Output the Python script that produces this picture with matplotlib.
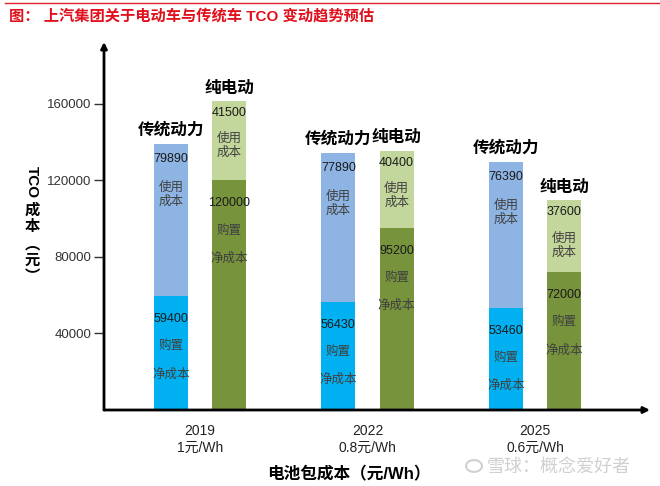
import numpy as np
import matplotlib
matplotlib.use('Agg')
import matplotlib.pyplot as plt
from matplotlib.lines import Line2D

plt.rcParams['font.family'] = ['Liberation Sans', 'Noto Sans CJK SC', 'DejaVu Sans']

years = ['2019', '2022', '2025']
battery = ['1元/Wh', '0.8元/Wh', '0.6元/Wh']
ice_buy = [59400, 56430, 53460]
ice_use = [79890, 77890, 76390]
ev_buy = [120000, 95200, 72000]
ev_use = [41500, 40400, 37600]
yticks = [40000, 80000, 120000, 160000]

W, H = 660, 486
fig = plt.figure(figsize=(6.6, 4.86), dpi=100)
ax = fig.add_axes([104 / W, (H - 410) / H, 546 / W, 368 / H])

x = np.arange(len(years))
bw = 0.203
off = 0.174
c_ice_buy, c_ice_use = '#00B0F0', '#8DB4E2'
c_ev_buy, c_ev_use = '#77933C', '#C3D69B'

ax.bar(x - off, ice_buy, bw, color=c_ice_buy)
ax.bar(x - off, ice_use, bw, bottom=ice_buy, color=c_ice_use)
ax.bar(x + off, ev_buy, bw, color=c_ev_buy)
ax.bar(x + off, ev_use, bw, bottom=ev_buy, color=c_ev_use)

txt = '#1a1a1a'
lab = '#404040'
def seg_text(xp, top, val, words, offs):
    ax.annotate(str(val), (xp, top), xytext=(0, -offs[0]), textcoords='offset pixels',
                ha='center', va='center', fontsize=9, color=txt)
    for w, o in zip(words, offs[1:]):
        ax.annotate(w, (xp, top), xytext=(0, -o), textcoords='offset pixels',
                    ha='center', va='center', fontsize=9, color=lab)

for i in range(len(years)):
    t_ice = ice_buy[i] + ice_use[i]
    t_ev = ev_buy[i] + ev_use[i]
    seg_text(x[i] - off, t_ice, ice_use[i], ['使用\n成本'], [15, 51])
    seg_text(x[i] - off, ice_buy[i], ice_buy[i], ['购置', '净成本'], [23, 50, 78])
    seg_text(x[i] + off, t_ev, ev_use[i], ['使用\n成本'], [12, 45])
    seg_text(x[i] + off, ev_buy[i], ev_buy[i], ['购置', '净成本'], [23, 50, 78])
    ax.annotate('传统动力', (x[i] - off, t_ice), xytext=(0, 14), textcoords='offset pixels',
                ha='center', va='center', fontsize=12, fontweight='bold', color='black')
    ax.annotate('纯电动', (x[i] + off, t_ev), xytext=(0, 13), textcoords='offset pixels',
                ha='center', va='center', fontsize=12, fontweight='bold', color='black')

ax.set_xlim(-0.573, 2.687)
ax.set_ylim(0, 192400)
ax.set_yticks(yticks)
ax.set_yticklabels([str(v) for v in yticks], fontsize=9.5, color='#333333')
ax.set_xticks(x)
ax.set_xticklabels([y + '\n' + b for y, b in zip(years, battery)], fontsize=10, color='#222222',
                   linespacing=1.25)
ax.tick_params(axis='x', length=0, pad=10)
ax.tick_params(axis='y', length=7, width=1, pad=2, color='#333333')
for s in ax.spines.values():
    s.set_visible(False)

ax.annotate('', xy=(1.0, 0), xytext=(0, 0), xycoords='axes fraction',
            arrowprops=dict(arrowstyle='-|>', lw=2, color='black', mutation_scale=9,
                            shrinkA=0, shrinkB=0), annotation_clip=False)
ax.annotate('', xy=(0, 1.0), xytext=(0, 0), xycoords='axes fraction',
            arrowprops=dict(arrowstyle='-|>', lw=2, color='black', mutation_scale=9,
                            shrinkA=0, shrinkB=0), annotation_clip=False)

# y label, vertical Chinese style
fig.text(32 / W, 1 - 182 / H, 'TCO', rotation=-90, ha='center', va='center',
         fontsize=11, fontweight='bold')
fig.text(32 / W, 1 - 243 / H, '成\n本\n︵\n元\n︶', ha='center', va='center',
         fontsize=11, fontweight='bold', family=['Noto Sans CJK SC', 'DejaVu Sans'],
         linespacing=1.05)

# x label
fig.text(349 / W, 1 - 474 / H, '电池包成本（元/Wh）', ha='center', va='center',
         fontsize=12, fontweight='bold')

# title
fig.add_artist(Line2D([5 / W, 1.0], [1 - 3 / H, 1 - 3 / H], color='#E0202A', lw=1))
fig.text(9 / W, 1 - 16 / H, '图： 上汽集团关于电动车与传统车 TCO 变动趋势预估', ha='left',
         va='center', fontsize=11, color='#E0101C', fontweight='bold')

# watermark
fig.text(487 / W, 1 - 467 / H, '雪球：概念爱好者', ha='left', va='center',
         fontsize=13, color='#d0d0d0', family=['Noto Sans CJK SC', 'DejaVu Sans'])
fig.add_artist(plt.Circle((474 / W, 1 - 466 / H), 8 / W, transform=fig.transFigure,
                          fill=False, ec='#d0d0d0', lw=1.5))

fig.savefig('out.png', dpi=100)
